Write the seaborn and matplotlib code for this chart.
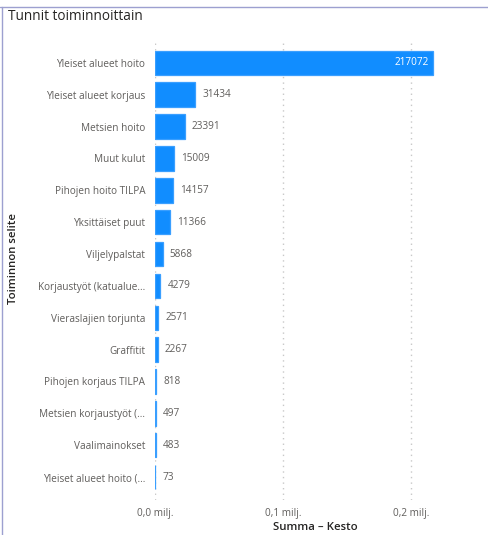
import matplotlib
matplotlib.use("Agg")
import matplotlib.pyplot as plt
import seaborn as sns
import pandas as pd
from matplotlib.lines import Line2D
from matplotlib.ticker import FixedLocator

categories = [
    "Yleiset alueet hoito",
    "Yleiset alueet korjaus",
    "Metsien hoito",
    "Muut kulut",
    "Pihojen hoito TILPA",
    "Yksittäiset puut",
    "Viljelypalstat",
    "Korjaustyöt (katualue...",
    "Vieraslajien torjunta",
    "Graffitit",
    "Pihojen korjaus TILPA",
    "Metsien korjaustyöt (...",
    "Vaalimainokset",
    "Yleiset alueet hoito (...",
]
values = [217072, 31434, 23391, 15009, 14157, 11366, 5868, 4279, 2571, 2267, 818, 497, 483, 73]
x_ticks = [0, 100000, 200000]
x_tick_labels = ["0,0 milj.", "0,1 milj.", "0,2 milj."]

df = pd.DataFrame({"cat": categories, "val": values})

sns.set_theme(style="white")
plt.rcParams["font.family"] = ["Open Sans", "DejaVu Sans"]

W, H = 488, 535
fig = plt.figure(figsize=(W / 100, H / 100), dpi=100)
fig.patch.set_facecolor("white")

ax_l, ax_r, ax_t, ax_b = 155, 470, 39, 500
ax = fig.add_axes([ax_l / W, 1 - ax_b / H, (ax_r - ax_l) / W, (ax_b - ax_t) / H])

bar_color = "#118DFF"
sns.barplot(data=df, x="val", y="cat", color=bar_color, saturation=1, width=0.77,
            ax=ax, orient="h", edgecolor="#3a9fff", linewidth=0.9)

xmax = (ax_r - ax_l) / 128 * 100000
ax.set_xlim(0, xmax)
ax.set_ylim(13.72, -0.75)

for s in ax.spines.values():
    s.set_visible(False)

ax.xaxis.set_major_locator(FixedLocator(x_ticks))
ax.set_xticklabels(x_tick_labels)
ax.tick_params(axis="x", length=0, pad=6, labelsize=7.2, labelcolor="#605E5C")
ax.tick_params(axis="y", length=0, pad=7, labelsize=7.2, labelcolor="#605E5C")
ax.grid(axis="x", linestyle=(0, (1, 3)), color="#c8c8c8", linewidth=1)
ax.set_axisbelow(True)

ax.set_xlabel("")
ax.set_ylabel("")
fig.text(315 / W, 1 - 528 / H, "Summa – Kesto", fontsize=8.2, color="#252423",
         ha="center", va="center", fontweight="semibold")
fig.text(14 / W, 1 - 259 / H, "Toiminnon selite", fontsize=8.2, color="#252423",
         ha="center", va="center", rotation=90, fontweight="semibold")

for i, v in enumerate(values):
    if i == 0:
        ax.text(v - 3200, i, str(v), color="white", fontsize=7.2, va="center", ha="right")
    else:
        ax.text(v + 5500, i, str(v), color="#605E5C", fontsize=7.2, va="center", ha="left")

fig.text(8 / W, 1 - 17 / H, "Tunnit toiminnoittain", fontsize=9.8, color="#252423",
         va="center", ha="left")

border = "#9da0d0"
fig.add_artist(Line2D([0, 1], [1 - 7 / H, 1 - 7 / H], transform=fig.transFigure, color=border, lw=1))
fig.add_artist(Line2D([2 / W, 2 / W], [0, 1 - 7 / H], transform=fig.transFigure, color=border, lw=1))

fig.savefig("out.png", dpi=100)
